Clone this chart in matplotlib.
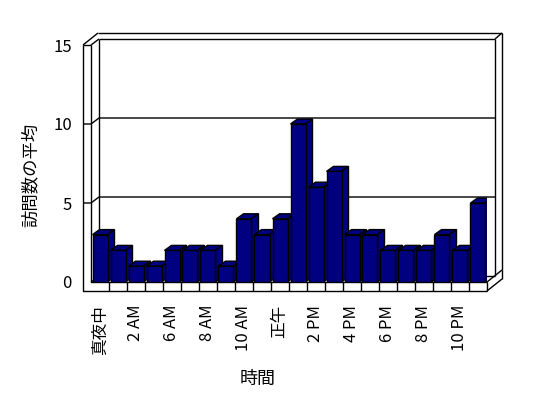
import matplotlib
matplotlib.use('Agg')
import matplotlib.pyplot as plt
from matplotlib.patches import Polygon

plt.rcParams['font.family'] = ['Noto Sans CJK JP', 'DejaVu Sans']

# data
hours = ['真夜中', '1 AM', '2 AM', '3 AM', '6 AM', '7 AM', '8 AM', '9 AM', '10 AM', '11 AM',
         '正午', '1 PM', '2 PM', '3 PM', '4 PM', '5 PM', '6 PM', '7 PM', '8 PM', '9 PM',
         '10 PM', '11 PM']
visits = [3, 2, 1, 1, 2, 2, 2, 1, 4, 3, 4, 10, 6, 7, 3, 3, 2, 2, 2, 3, 2, 5]
yticks = [0, 5, 10, 15]
ymax = 15

W, H = 548, 398
fig = plt.figure(figsize=(W / 100, H / 100), dpi=100)
ax = fig.add_axes([91 / W, 116 / H, 396 / W, 237 / H])
n = len(visits)
xs = list(range(n))
ax.set_xlim(-0.5, n - 0.5)
ax.set_ylim(0, ymax)
for s in ax.spines.values():
    s.set_visible(False)

sx = 396 / n      # px per category
sy = 237 / ymax   # px per unit


def p(xd, yd, dx=0, dy=0):
    # data point shifted by a pixel offset (dy up)
    return (xd + dx / sx, yd + dy / sy)


def line(*pts, z=2):
    ax.plot([q[0] for q in pts], [q[1] for q in pts], color='black', lw=1,
            clip_on=False, zorder=z, solid_capstyle='butt')


L, R = -0.5, n - 0.5
dx, dy = 8, 6        # wall depth
fl = 9               # floor thickness
# walls and floor
line(p(L, ymax, -8, 0), p(L, 0, -8, -fl), p(R, 0, 0, -fl))
line(p(L, ymax), p(L, 0), p(R, 0))
line(p(L, ymax, -8, 0), p(L, ymax))
line(p(L, ymax), p(L, ymax, dx, dy))
line(p(L, ymax, -8, 0), p(L, ymax, 7, 12))
line(p(L, ymax, 7, 12), p(R, ymax, 15, 12))
line(p(L, ymax, dx, dy), p(R, ymax, dx, dy))
line(p(L, ymax, dx, dy), p(L, 0, dx, dy))
line(p(L, 0), p(L, 0, dx, dy))
line(p(L, 0, dx, dy), p(R, 0, dx, dy))
line(p(R, ymax, dx, dy), p(R, 0, dx, dy))
line(p(R, ymax, dx, dy), p(R, ymax, 15, 12))
line(p(R, ymax, 15, 12), p(R, 0, 15, 12))
line(p(R, 0), p(R, 0, 15, 12))
line(p(R, 0, 0, -fl), p(R, 0, 15, 12 - fl))
line(p(R, 0, 15, 12), p(R, 0, 15, 12 - fl))
for k in range(1, n + 1):
    line(p(k - 0.5, 0), p(k - 0.5, 0, 0, -fl))
for t in yticks[1:-1]:
    line(p(L, t, -8, 0), p(L, t), p(L, t, dx, dy), p(R, t, dx, dy))

# bars with a little depth
w = 15 / sx
bdx, bdy = 7, 5
bars = ax.bar(xs, visits, width=w, color='#000080', edgecolor='black', lw=1)
for i, v in enumerate(visits):
    x0, x1 = i - w / 2, i + w / 2
    top = Polygon([p(x0, v), p(x1, v), p(x1, v, bdx, bdy), p(x0, v, bdx, bdy)],
                  closed=True, fc='#000080', ec='black', lw=1, zorder=10 + 2 * i)
    side = Polygon([p(x1, 0), p(x1, v), p(x1, v, bdx, bdy), p(x1, 0, bdx, bdy)],
                   closed=True, fc='#000080', ec='black', lw=1, zorder=10 + 2 * i)
    ax.add_patch(top)
    ax.add_patch(side)
    bars[i].set_zorder(11 + 2 * i)

ax.set_xticks(xs[::2])
ax.set_xticklabels(hours[::2], rotation=90, fontsize=12)
ax.set_yticks(yticks)
ax.set_yticklabels([str(t) for t in yticks], fontsize=12)
ax.tick_params(axis='x', length=0, pad=16.5)
ax.tick_params(axis='y', length=0, pad=13.7)

ax.set_xlabel('時間', fontsize=13)
ax.set_ylabel('訪問数の平均', fontsize=12.5)
ax.xaxis.label.set_va('center')
ax.yaxis.label.set_va('center')
ax.xaxis.set_label_coords(0.42, -0.41)
ax.yaxis.set_label_coords(-0.152, 0.45)

fig.savefig('out.png', dpi=100)
